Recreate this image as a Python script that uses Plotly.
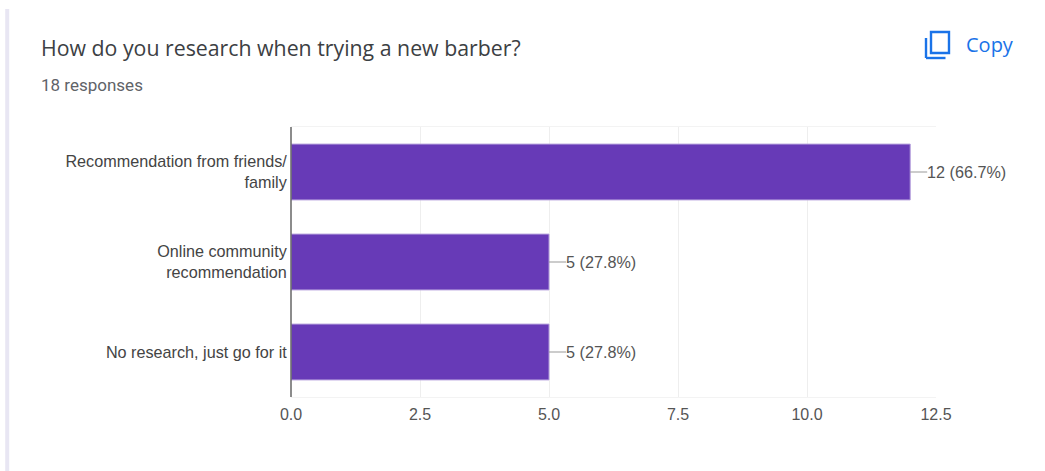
import plotly.graph_objects as go

# Survey results
categories = ["Recommendation from friends/<br>family", "Online community<br>recommendation", "No research, just go for it"]
counts = [12, 5, 5]
shares = ["66.7%", "27.8%", "27.8%"]
x_ticks = [0, 2.5, 5, 7.5, 10, 12.5]
x_tick_labels = ["0.0", "2.5", "5.0", "7.5", "10.0", "12.5"]

W, H = 1045, 471
L, R, T, B = 291, 936.5, 127, 397
BLUE = "#1a73e8"


def px(x):
    return (x - L) / (R - L)


def py(y):
    return (B - y) / (B - T)


def box(x0, y0, x1, y1, **kw):
    return dict(type="rect", xref="paper", yref="paper", x0=px(x0), x1=px(x1), y0=py(y0), y1=py(y1), layer="below", **kw)


def seg(x0, y0, x1, y1, color, width):
    return dict(type="line", xref="paper", yref="paper", x0=px(x0), x1=px(x1), y0=py(y0), y1=py(y1),
                line=dict(color=color, width=width))


def text(x, y, s, size, color, family, anchor="left"):
    return dict(xref="paper", yref="paper", x=px(x), y=py(y), text=s, showarrow=False, xanchor=anchor, yanchor="middle",
                borderpad=0, borderwidth=0, font=dict(size=size, color=color, family=family))


fig = go.Figure(go.Bar(
    x=counts, y=categories, orientation="h", width=0.62,
    marker=dict(color="#673ab7", line=dict(color="#b39ddb", width=1)),
    hoverinfo="skip",
))

shapes = [
    # card edge
    box(5, 9, 9, H, fillcolor="#e8e6f3", line_width=0),
    # copy icon
    dict(type="rect", xref="paper", yref="paper", x0=px(931.5), x1=px(949.5), y0=py(32), y1=py(53),
         line=dict(color=BLUE, width=2.4), fillcolor="rgba(0,0,0,0)"),
    seg(926.5, 38, 926.5, 58, BLUE, 2.4),
    seg(926.5, 58, 946, 58, BLUE, 2.4),
    # value axis baseline
    seg(L, T, L, B, "#666666", 1.5),
]

annotations = [
    text(41, 47, "How do you research when trying a new barber?", 21.3, "#3c4043", "Open Sans"),
    text(41, 85, "18 responses", 17, "#5f6368", "Roboto"),
    text(966.5, 45, "Copy", 20, BLUE, "Open Sans"),
]

# value labels with short leader lines
for cat, n, share in zip(categories, counts, shares):
    annotations.append(dict(
        x=n, y=cat, xref="x", yref="y", text=f"{n} ({share})", showarrow=True,
        ax=17, ay=0, axref="pixel", ayref="pixel", arrowhead=0, arrowwidth=1, arrowcolor="#999999",
        xanchor="left", yanchor="middle", align="left", standoff=0, borderpad=0, borderwidth=0,
        font=dict(size=16.2, color="#555555", family="Liberation Sans"),
    ))

fig.update_layout(
    width=W, height=H, autosize=False, showlegend=False,
    margin=dict(l=L, r=W - R, t=T, b=H - B, pad=0),
    paper_bgcolor="#ffffff", plot_bgcolor="#ffffff",
    shapes=shapes, annotations=annotations,
    xaxis=dict(range=[0, 12.5], tickvals=x_ticks, ticktext=x_tick_labels, showgrid=True, gridcolor="#eeeeee", gridwidth=1,
               zeroline=False, showline=True, linecolor="#f3f3f3", mirror=True, ticks="outside", ticklen=3,
               tickcolor="rgba(0,0,0,0)", tickfont=dict(size=16, color="#555555", family="Liberation Sans")),
    yaxis=dict(categoryorder="array", categoryarray=categories, autorange="reversed", showgrid=False, zeroline=False,
               ticks="outside", ticklen=0, tickcolor="rgba(0,0,0,0)",
               tickfont=dict(size=16.2, color="#444444", family="Liberation Sans")),
)

fig.write_html("out.html", config=dict(displayModeBar=False))
